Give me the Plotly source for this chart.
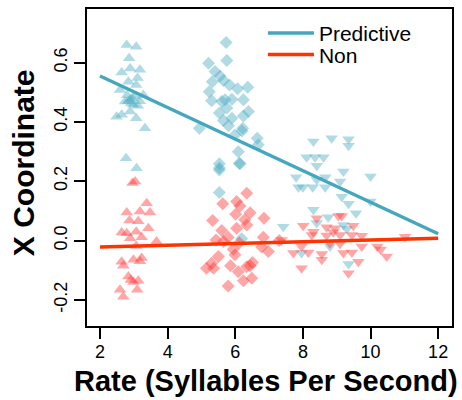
import plotly.graph_objects as go

# ---- data ----
# cluster 1: rate ~3, triangle-up
c1_pred_x = [2.79, 3.07, 2.86, 2.64, 2.89, 3.18, 3.11, 2.84, 2.59, 3.07, 3.28, 2.89, 2.74, 2.99, 3.18,
             2.49, 2.64, 2.89, 3.07, 3.33, 2.77, 3.08, 2.95, 2.83, 3.02, 2.92, 3.12, 2.80]
c1_pred_y = [0.66, 0.654, 0.615, 0.567, 0.58, 0.576, 0.548, 0.536, 0.508, 0.525, 0.491, 0.475, 0.469, 0.458, 0.47,
             0.418, 0.424, 0.435, 0.413, 0.379, 0.278, 0.244, 0.48, 0.47, 0.485, 0.462, 0.455, 0.49]
c1_non_x = [3.04, 2.96, 3.38, 2.79, 3.18, 3.48, 2.87, 3.13, 2.64, 2.79, 3.07, 3.43, 2.89, 3.23, 3.67, 3.07,
            2.64, 2.69, 2.99, 3.23, 3.18, 2.84, 2.91, 3.13, 2.59, 2.69, 3.10, 2.99]
c1_non_y = [0.199, 0.194, 0.126, 0.095, 0.098, 0.095, 0.068, 0.065, 0.027, 0.025, 0.03, 0.042, 0.008, 0.011, -0.003, -0.018,
            -0.071, -0.085, -0.065, -0.059, -0.07, -0.121, -0.133, -0.135, -0.166, -0.189, -0.166, -0.14]

# cluster 2: rate ~6, diamond
c2_pred_x = [5.73, 5.21, 5.75, 5.40, 5.55, 5.32, 5.65, 5.83, 6.07, 6.37, 5.23, 5.30, 5.60, 5.70, 5.90, 6.24,
             5.75, 5.53, 6.39, 6.24, 5.90, 5.65, 5.80, 4.94, 6.22, 6.20, 5.99, 6.65, 6.68, 6.09, 6.12, 5.53,
             5.53, 6.14, 5.53, 5.53, 6.19]
c2_pred_y = [0.668, 0.598, 0.607, 0.57, 0.555, 0.536, 0.54, 0.525, 0.512, 0.517, 0.502, 0.472, 0.469, 0.475, 0.477, 0.475,
             0.447, 0.43, 0.435, 0.42, 0.413, 0.405, 0.387, 0.379, 0.379, 0.37, 0.356, 0.345, 0.323, 0.30, 0.261, 0.259,
             0.245, 0.259, 0.238, 0.162, 0.006]
c2_non_x = [6.34, 5.63, 6.04, 6.14, 6.44, 6.01, 5.33, 6.28, 6.85, 6.34, 6.04, 5.60, 5.79, 5.43, 5.65, 6.12,
            6.83, 6.78, 6.98, 5.94, 5.99, 5.50, 5.30, 5.15, 5.36, 5.86, 6.34, 6.44, 6.51, 6.09, 6.24, 6.49,
            5.79, 7.30]
c2_non_y = [0.16, 0.124, 0.132, 0.117, 0.094, 0.089, 0.068, 0.07, 0.075, 0.053, 0.042, 0.034, 0.011, 0.002, -0.003, -0.007,
            0.011, -0.022, -0.037, -0.029, -0.048, -0.054, -0.076, -0.093, -0.093, -0.085, -0.088, -0.085, -0.074, -0.105,
            -0.135, -0.127, -0.153, 0.0]

# cluster 3: rate ~9, triangle-down
c3_pred_x = [8.31, 8.85, 9.35, 9.35, 8.11, 8.36, 8.61, 8.41, 9.20, 10.0, 7.80, 8.66, 8.41, 9.10, 7.87, 8.00,
             8.29, 8.66, 9.15, 9.35, 10.0, 8.31, 9.57, 8.75, 9.20, 7.42, 8.41, 9.30, 8.80, 7.96, 9.35]
c3_pred_y = [0.334, 0.345, 0.342, 0.32, 0.281, 0.281, 0.281, 0.252, 0.233, 0.216, 0.214, 0.214, 0.205, 0.199, 0.18, 0.18,
             0.18, 0.18, 0.148, 0.124, 0.132, 0.104, 0.092, 0.079, 0.053, 0.047, 0.059, 0.04, -0.02, -0.042, -0.079]
c3_non_x = [8.41, 9.05, 9.15, 8.01, 8.70, 8.95, 9.49, 8.26, 8.70, 9.10, 9.45, 9.74, 11.02, 7.37, 8.80, 9.10,
            9.74, 10.2, 10.3, 7.96, 7.72, 8.16, 8.56, 9.20, 9.45, 10.48, 9.64, 8.56, 7.96, 9.35, 8.31, 8.90]
c3_non_y = [0.075, 0.083, 0.083, 0.05, 0.045, 0.042, 0.05, 0.019, 0.017, 0.019, 0.019, 0.016, 0.013, 0.002, -0.009, -0.011,
            -0.02, -0.02, -0.03, -0.02, -0.042, -0.04, -0.045, -0.042, -0.04, -0.054, -0.071, -0.065, -0.093, -0.11, 0.03, 0.028]

# fitted lines (endpoints)
line_x = [2, 12]
pred_line_y = [0.555, 0.023]
non_line_y = [-0.022, 0.008]

series_names = ["Predictive", "Non"]
x_ticks = [2, 4, 6, 8, 10, 12]
y_ticks = [-0.2, 0.0, 0.2, 0.4, 0.6]
y_tick_text = ["-0.2", "0.0", "0.2", "0.4", "0.6"]
x_title = "Rate (Syllables Per Second)"
y_title = "X Coordinate"

# ---- styles ----
BLUE_PT = "rgba(80,172,196,0.45)"
RED_PT = "rgba(255,60,60,0.45)"
BLUE_LN = "#44A7BE"
RED_LN = "#FF3300"
FONT = "Liberation Sans, Arial, Helvetica, sans-serif"

fig = go.Figure()

clusters = [
    (c1_pred_x, c1_pred_y, c1_non_x, c1_non_y, "triangle-up", 11),
    (c2_pred_x, c2_pred_y, c2_non_x, c2_non_y, "diamond", 10),
    (c3_pred_x, c3_pred_y, c3_non_x, c3_non_y, "triangle-down", 11),
]
for px, py, nx, ny, sym, sz in clusters:
    fig.add_trace(go.Scatter(x=px, y=py, mode="markers", showlegend=False,
                             marker=dict(symbol=sym, size=sz, color=BLUE_PT, line=dict(width=0))))
    fig.add_trace(go.Scatter(x=nx, y=ny, mode="markers", showlegend=False,
                             marker=dict(symbol=sym, size=sz, color=RED_PT, line=dict(width=0))))

fig.add_trace(go.Scatter(x=line_x, y=pred_line_y, mode="lines", name=series_names[0],
                         line=dict(color=BLUE_LN, width=3.5), legend="legend"))
fig.add_trace(go.Scatter(x=line_x, y=non_line_y, mode="lines", name=series_names[1],
                         line=dict(color=RED_LN, width=3.5), legend="legend2"))

leg_common = dict(xanchor="left", yanchor="middle", bgcolor="rgba(0,0,0,0)",
                  font=dict(size=21, family=FONT), itemwidth=46)
fig.update_layout(
    width=462, height=400,
    margin=dict(l=87, r=10, t=9, b=74),
    plot_bgcolor="white", paper_bgcolor="white",
    font=dict(family=FONT, color="black"),
    legend=dict(x=0.482, y=0.923, **leg_common),
    legend2=dict(x=0.482, y=0.855, **leg_common),
    annotations=[
        dict(text="<b>" + x_title + "</b>", xref="paper", yref="paper", x=0.49, y=-0.1735,
             xanchor="center", yanchor="middle", showarrow=False, font=dict(size=29, family=FONT)),
        dict(text="<b>" + y_title + "</b>", xref="paper", yref="paper", x=-0.175, y=0.514,
             xanchor="center", yanchor="middle", textangle=-90, showarrow=False,
             font=dict(size=30, family=FONT)),
    ],
)
fig.update_xaxes(
    range=[1.615, 12.41], tickvals=x_ticks, ticktext=[str(v) for v in x_ticks],
    showgrid=False, zeroline=False, showline=True, linecolor="black", linewidth=1.5, mirror=True,
    ticks="outside", ticklen=11, tickwidth=1.5, tickcolor="black",
    tickfont=dict(size=18, family=FONT), automargin=False, ticklabelstandoff=-2,
)
fig.update_yaxes(
    range=[-0.288, 0.781], tickvals=y_ticks, ticktext=y_tick_text, tickangle=-90,
    showgrid=False, zeroline=False, showline=True, linecolor="black", linewidth=1.5, mirror=True,
    ticks="outside", ticklen=11, tickwidth=1.5, tickcolor="black",
    tickfont=dict(size=18, family=FONT), automargin=False,
)

fig.write_html("out.html", config={"displayModeBar": False},
               post_script="document.body.style.margin='0';document.body.style.overflow='hidden';")
